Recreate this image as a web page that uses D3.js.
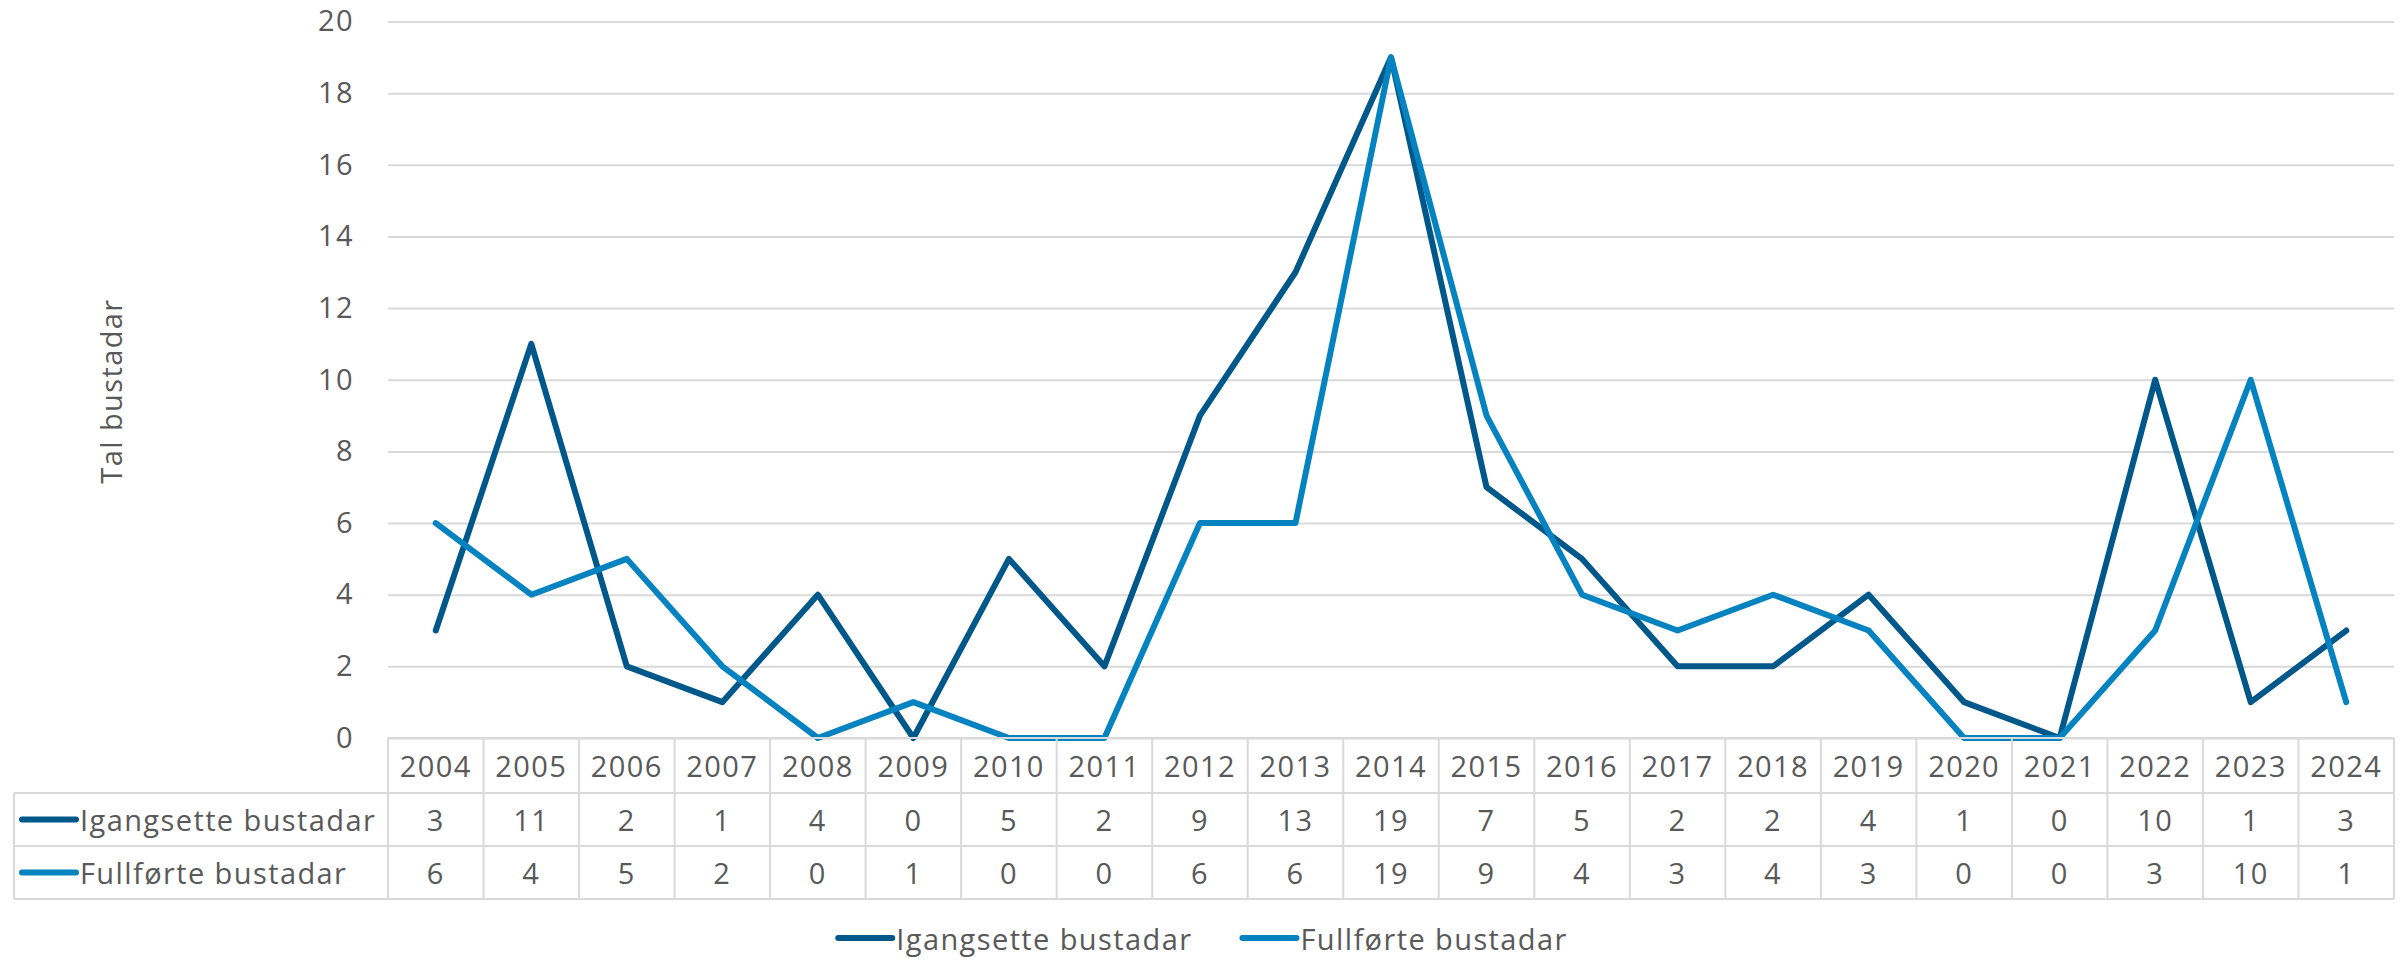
<!DOCTYPE html>
<html>
<head>
<meta charset="utf-8">
<script src="https://cdn.jsdelivr.net/npm/d3@7"></script>
<style>
  html, body { margin: 0; padding: 0; background: #ffffff; }
  svg { display: block; font-family: "Open Sans", "Noto Sans", sans-serif; }
  svg text { letter-spacing: 1.4px; }
</style>
</head>
<body>
<svg id="chart" width="2407" height="960"></svg>
<script>
// ---- Data ----
const years = ["2004","2005","2006","2007","2008","2009","2010","2011","2012","2013","2014","2015","2016","2017","2018","2019","2020","2021","2022","2023","2024"];
const seriesNames = ["Igangsette bustadar", "Fullførte bustadar"];
const igangsette = [3, 11, 2, 1, 4, 0, 5, 2, 9, 13, 19, 7, 5, 2, 2, 4, 1, 0, 10, 1, 3];
const fullforte  = [6, 4, 5, 2, 0, 1, 0, 0, 6, 6, 19, 9, 4, 3, 4, 3, 0, 0, 3, 10, 1];
const yTicks = [0, 2, 4, 6, 8, 10, 12, 14, 16, 18, 20];
const yTitle = "Tal bustadar";

// ---- Styles / layout ----
const colors = ["#00588a", "#0583c1"];
const textColor = "#595959";
const gridColor = "#d9d9d9";
const fontSize = 29;
const plot = { left: 388, right: 2394, top: 21.5, bottom: 738 };
const table = { left: 14, headerBottom: 793, row1Bottom: 846, row2Bottom: 899 };

const svg = d3.select("#chart");
const series = [igangsette, fullforte];

const x = d3.scaleBand().domain(years).range([plot.left, plot.right]).padding(0);
const y = d3.scaleLinear().domain([0, 20]).range([plot.bottom, plot.top]);
const cx = d => x(d) + x.bandwidth() / 2;

// ---- Y axis with gridlines ----
const yAxis = d3.axisLeft(y)
  .tickValues(yTicks)
  .tickSize(-(plot.right - plot.left))
  .tickPadding(34)
  .tickFormat(d3.format("d"));
const gy = svg.append("g")
  .attr("transform", `translate(${plot.left},0)`)
  .call(yAxis);
gy.select(".domain").remove();
gy.selectAll(".tick line").attr("stroke", gridColor).attr("stroke-width", 2);
gy.selectAll(".tick text")
  .attr("fill", textColor)
  .attr("font-size", fontSize)
  .attr("font-family", '"Open Sans", sans-serif');

// Axis title
svg.append("text")
  .attr("transform", `translate(110, 391) rotate(-90)`)
  .attr("text-anchor", "middle")
  .attr("dominant-baseline", "central")
  .attr("fill", textColor)
  .attr("font-size", fontSize)
  .text(yTitle);

// ---- Lines ----
const line = d3.line()
  .x((d, i) => cx(years[i]))
  .y(d => y(d));

series.forEach((s, k) => {
  svg.append("path")
    .datum(s)
    .attr("fill", "none")
    .attr("stroke", colors[k])
    .attr("stroke-width", 6)
    .attr("stroke-linejoin", "round")
    .attr("stroke-linecap", "round")
    .attr("d", line);
});

// ---- Data table ----
const tg = svg.append("g").attr("stroke", gridColor).attr("stroke-width", 2);
tg.append("line").attr("x1", plot.left).attr("x2", plot.right).attr("y1", plot.bottom).attr("y2", plot.bottom);
[table.headerBottom, table.row1Bottom, table.row2Bottom].forEach(yy => {
  tg.append("line").attr("x1", table.left).attr("x2", plot.right).attr("y1", yy).attr("y2", yy);
});
tg.append("line").attr("x1", table.left).attr("x2", table.left).attr("y1", table.headerBottom).attr("y2", table.row2Bottom);
years.forEach(yr => {
  tg.append("line").attr("x1", x(yr)).attr("x2", x(yr)).attr("y1", plot.bottom).attr("y2", table.row2Bottom);
});
tg.append("line").attr("x1", plot.right).attr("x2", plot.right).attr("y1", plot.bottom).attr("y2", table.row2Bottom);

// header years
svg.append("g").selectAll("text").data(years).join("text")
  .attr("x", d => cx(d))
  .attr("y", (plot.bottom + table.headerBottom) / 2)
  .attr("text-anchor", "middle")
  .attr("dominant-baseline", "central")
  .attr("fill", textColor)
  .attr("font-size", fontSize)
  .text(d => d);

const rowCenters = [(table.headerBottom + table.row1Bottom) / 2, (table.row1Bottom + table.row2Bottom) / 2];
series.forEach((s, k) => {
  const rc = rowCenters[k];
  svg.append("g").selectAll("text").data(s).join("text")
    .attr("x", (d, i) => cx(years[i]))
    .attr("y", rc)
    .attr("text-anchor", "middle")
    .attr("dominant-baseline", "central")
    .attr("fill", textColor)
    .attr("font-size", fontSize)
    .text(d => d);
  svg.append("line")
    .attr("x1", 22).attr("x2", 76).attr("y1", rc).attr("y2", rc)
    .attr("stroke", colors[k]).attr("stroke-width", 6).attr("stroke-linecap", "round");
  svg.append("text")
    .attr("x", 80).attr("y", rc)
    .attr("dominant-baseline", "central")
    .attr("fill", textColor)
    .attr("font-size", fontSize)
    .text(seriesNames[k]);
});

// ---- Bottom legend ----
const legend = svg.append("g");
const swatchW = 54, gapAfterSwatch = 4, itemGap = 50;
let cursor = 0;
seriesNames.forEach((name, k) => {
  const g = legend.append("g").attr("transform", `translate(${cursor},0)`);
  g.append("line").attr("x1", 0).attr("x2", swatchW).attr("y1", 0).attr("y2", 0)
    .attr("stroke", colors[k]).attr("stroke-width", 6).attr("stroke-linecap", "round");
  const t = g.append("text").attr("x", swatchW + gapAfterSwatch).attr("y", 0)
    .attr("dominant-baseline", "central")
    .attr("fill", textColor).attr("font-size", fontSize).text(name);
  const w = t.node().getComputedTextLength();
  cursor += swatchW + gapAfterSwatch + w + itemGap;
});
const totalW = cursor - itemGap;
legend.attr("transform", `translate(${1203 - totalW / 2}, 938)`);
</script>
</body>
</html>
